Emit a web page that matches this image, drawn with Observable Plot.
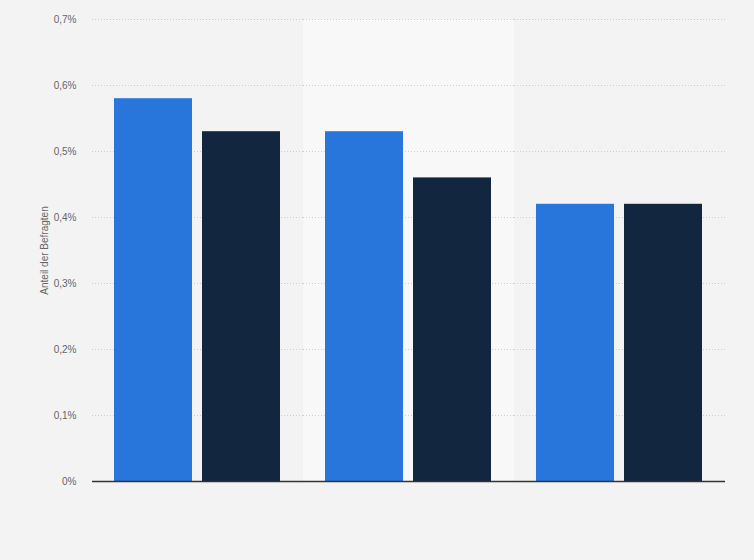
<!DOCTYPE html>
<html>
<head>
<meta charset="utf-8">
<script src="https://cdn.jsdelivr.net/npm/d3@7"></script>
<script src="https://cdn.jsdelivr.net/npm/@observablehq/plot@0.6"></script>
<style>
  html, body { margin: 0; padding: 0; background: #f3f3f3; }
  #chart { width: 754px; height: 560px; }
</style>
</head>
<body>
<div id="chart"></div>
<script>
const groups = ["G1", "G2", "G3"];
const series = ["Serie 1", "Serie 2"];
const values1 = [0.58, 0.53, 0.42];
const values2 = [0.53, 0.46, 0.42];
const yTicks = [0, 0.1, 0.2, 0.3, 0.4, 0.5, 0.6, 0.7];
const colors = ["#2876dc", "#12263f"];
const highlighted = ["G2"];

const data = [];
groups.forEach((g, i) => {
  data.push({group: g, series: series[0], value: values1[i]});
  data.push({group: g, series: series[1], value: values2[i]});
});

const fmt = d => d === 0 ? "0%" : d.toFixed(1).replace(".", ",") + "%";

const chart = Plot.plot({
  width: 754,
  height: 560,
  marginTop: 19,
  marginBottom: 79,
  marginLeft: 91,
  marginRight: 29,
  style: {background: "#f3f3f3", fontFamily: "'Liberation Sans', Arial, sans-serif"},
  fx: {domain: groups, padding: 0, axis: null},
  x: {domain: series, paddingInner: 0.112, paddingOuter: 0.243, axis: null},
  y: {domain: [0, 0.7], axis: null},
  color: {domain: series, range: colors},
  marks: [
    Plot.rect(highlighted.map(g => ({group: g})), {fx: "group", y1: 0, y2: 0.7, fill: "#f8f8f8"}),
    Plot.gridY(yTicks.filter(d => d > 0), {stroke: "#cfcfcf", strokeOpacity: 1, strokeDasharray: "1,2"}),
    Plot.barY(data, {fx: "group", x: "series", y: "value", fill: "series"}),
    Plot.axisY({
      ticks: yTicks,
      tickFormat: fmt,
      tickSize: 0,
      tickPadding: 16,
      fontSize: 10,
      color: "#666",
      label: "Anteil der Befragten",
      labelAnchor: "center",
      labelOffset: 52,
      labelArrow: false
    }),
    Plot.ruleY([0], {stroke: "#333", strokeWidth: 1.5})
  ]
});
document.getElementById("chart").appendChild(chart);
</script>
</body>
</html>
